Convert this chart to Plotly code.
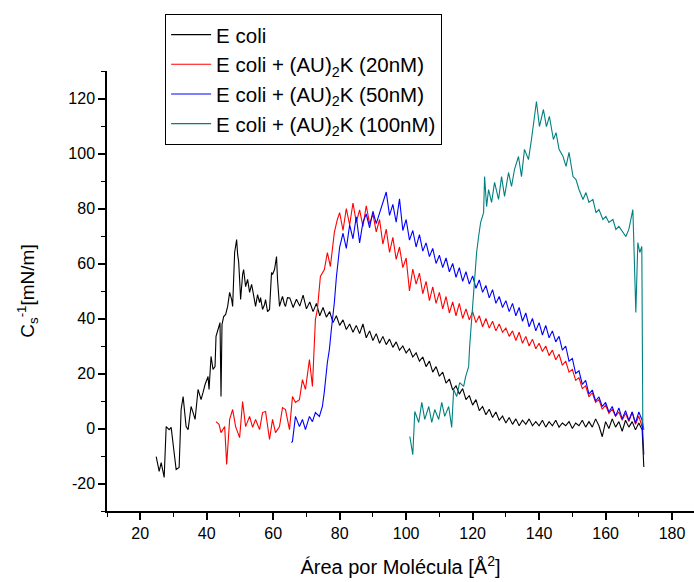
import plotly.graph_objects as go

# ---------------- data ----------------
names = ["E coli",
         "E coli + (AU)<sub>2</sub>K (20nM)",
         "E coli + (AU)<sub>2</sub>K (50nM)",
         "E coli + (AU)<sub>2</sub>K (100nM)"]
colors = ["#000000", "#ff0000", "#0000ff", "#008080"]

ecoli_x = [24.8, 25.7, 26.3, 27.2, 27.8, 28.7, 29.3, 30.5, 30.8, 31.7, 32.3, 32.9, 33.8, 34.4, 35.3,
           35.9, 36.5, 37.4, 38.3, 38.9, 39.5, 40.4, 40.7, 41.3, 41.9, 42.5, 42.8, 43.4, 44.0, 44.3,
           44.6, 45.1, 45.7, 46.3, 46.9, 47.5, 47.8, 48.4, 49.0, 49.3, 49.6, 49.9, 50.2, 50.8, 51.1,
           51.7, 52.3, 52.9, 53.5, 53.8, 54.4, 54.7, 55.3, 55.9, 56.2, 56.8, 57.4, 57.7, 58.3, 58.9,
           59.5, 59.8, 60.4, 61.0, 61.3, 61.9, 62.5, 62.8, 63.4, 63.7, 64.3,
           65, 66, 67, 68, 69, 70, 71, 72, 73, 74, 75, 76, 77, 78, 79, 80, 81, 82, 83, 84, 85, 86, 87,
           88, 89, 90, 91, 92, 93, 94, 95, 96, 97, 98, 99, 100, 101, 102, 103, 104, 105, 106, 107, 108,
           109, 110, 111, 112, 113, 114, 115, 116, 117, 118, 119, 120, 121, 122, 123, 124, 125, 126,
           127, 128, 129, 130, 131, 132, 133, 134, 135, 136, 137, 138, 139, 140, 141, 142, 143, 144,
           145, 146, 147, 148, 149, 150, 151, 152, 153, 154, 155, 156, 157, 158, 159, 160, 161, 162,
           163, 164, 165, 166, 167, 168, 169, 170, 171, 171.5]
ecoli_y = [-10.2, -15.6, -12.4, -17.8, 0.7, -0.4, 0.4, -13.1, -14.9, -14.2, 6.9, 11.6, 0.7, -0.4, 8.0,
           5.8, 3.3, 14.2, 10.5, 13.1, 16.0, 18.9, 14.2, 26.2, 21.5, 22.5, 33.5, 36.0, 38.5, 11.6,
           37.8, 40.7, 41.5, 44.4, 49.5, 46.9, 44.4, 64.0, 68.7, 63.3, 60.7, 54.2, 46.9, 56.0, 57.8,
           51.6, 54.2, 49.5, 52.4, 50.5, 46.9, 44.4, 48.7, 45.8, 47.6, 43.3, 45.1, 46.9, 42.5, 43.3,
           56.7, 56.0, 57.8, 62.5, 54.2, 44.4, 46.9, 48.0, 45.1, 44.4, 47.6,
           47.5, 44.0, 47.0, 44.5, 48.5, 43.5, 46.0, 42.5, 45.5, 41.0, 44.0, 40.5, 42.5, 38.5, 41.0,
           37.5, 39.5, 36.0, 38.0, 35.0, 37.5, 34.5, 38.0, 33.0, 35.5, 32.0, 34.5, 31.0, 33.5, 30.5,
           32.5, 29.5, 31.5, 28.5, 30.0, 27.5, 29.0, 26.0, 27.5, 24.5, 26.0, 22.5, 24.5, 20.5, 22.5,
           19.0, 20.5, 16.5, 18.0, 14.0, 15.5, 12.5, 14.5, 10.5, 12.0, 8.5, 10.5, 6.5, 8.0, 5.0, 7.0,
           4.0, 6.0, 3.0, 4.5, 2.0, 4.0, 1.5, 3.5, 1.0, 3.0, 1.5, 3.5, 1.0, 2.5, 1.0, 3.0, 0.5, 2.5,
           1.0, 3.0, 0.5, 2.0, 1.0, 2.5, 0.0, 2.0, 1.0, 3.0, 0.5, 2.5, 0.5, 3.5, 1.0, -3.0, 2.5, 0.0,
           3.5, 0.5, 2.5, -1.0, 3.0, 0.5, 2.5, -0.5, 2.0, -0.5, -14.0]

au20_x = [42.8, 43.7, 44.3, 45.4, 46.0, 46.9, 47.8, 48.7, 49.9, 50.8, 51.7, 52.9, 53.8, 54.7, 55.9,
          56.8, 57.7, 58.9, 59.8, 60.7, 61.9, 62.8, 63.7, 64.9, 65.8, 66.7, 67.9, 68.8, 69.7, 70.9,
          71.8, 72.7, 73.3, 74.2, 75.4, 76.3, 77.2, 78.4, 79.3,
          80, 81, 82, 83, 84, 85, 86, 87, 88, 89, 90, 91, 92, 93, 94, 95, 96, 97, 98, 99, 100, 101,
          102, 103, 104, 105, 106, 107, 108, 109, 110, 111, 112, 113, 114, 115, 116, 117, 118, 119,
          120, 121, 122, 123, 124, 125, 126, 127, 128, 129, 130, 131, 132, 133, 134, 135, 136, 137,
          138, 139, 140, 141, 142, 143, 144, 145, 146, 147, 148, 149, 150, 151, 152, 153, 154, 155,
          156, 157, 158, 159, 160, 161, 162, 163, 164, 165, 166, 167, 168, 169, 170, 171, 171.5]
au20_y = [2.5, 1.5, -1.5, 0.7, -13.1, 3.3, 6.9, 0.7, -3.3, 9.8, 0.7, 4.4, 0.4, 3.3, -0.4,
          5.8, 6.2, -4.0, 3.3, -1.5, 0.7, 7.6, 6.9, -0.4, 11.6, 9.5, 10.5, 17.8, 14.2, 25.1,
          15.3, 39.6, 43.3, 55.3, 57.8, 64.0, 58.9, 71.3, 76.0,
          78.5, 72.0, 80.0, 74.0, 82.0, 75.0, 79.5, 73.5, 81.0, 74.5, 78.0, 71.5, 76.0, 67.0, 72.5,
          64.0, 69.5, 61.5, 66.0, 58.5, 62.0, 50.0, 58.0, 52.5, 56.5, 49.0, 53.5, 46.5, 51.5, 45.5,
          49.5, 43.5, 48.0, 42.0, 46.0, 41.0, 45.5, 40.0, 43.5, 39.5, 42.5, 38.5, 41.0, 37.0, 40.0,
          36.5, 39.0, 35.5, 38.0, 35.0, 36.5, 33.5, 35.5, 32.0, 35.0, 31.0, 33.5, 30.0, 32.5, 29.0,
          31.0, 28.0, 30.0, 26.5, 28.5, 25.0, 27.0, 23.0, 24.5, 20.5, 21.5, 17.5, 18.5, 14.5, 15.5,
          11.5, 13.0, 9.5, 10.5, 7.0, 8.5, 5.5, 7.0, 4.5, 6.0, 3.0, 5.5, 2.5, 6.0, 1.5, 4.5, 0.5, -0.4]

au50_x = [65.5, 65.8, 66.7, 67.9, 68.8, 69.7, 70.9, 71.8, 72.7, 73.9, 74.8, 75.4, 76.3, 76.9, 77.5,
          78.4, 79.0, 79.9,
          80, 81, 82, 83, 84, 85, 86, 87, 88, 89, 90, 91, 92, 93, 94, 95, 96, 97, 98, 99, 100, 101,
          102, 103, 104, 105, 106, 107, 108, 109, 110, 111, 112, 113, 114, 115, 116, 117, 118, 119,
          120, 121, 122, 123, 124, 125, 126, 127, 128, 129, 130, 131, 132, 133, 134, 135, 136, 137,
          138, 139, 140, 141, 142, 143, 144, 145, 146, 147, 148, 149, 150, 151, 152, 153, 154, 155,
          156, 157, 158, 159, 160, 161, 162, 163, 164, 165, 166, 167, 168, 169, 170, 171, 171.5]
au50_y = [-5.1, -4.7, 4.4, 0.7, 3.3, -0.4, 4.4, 2.5, 5.8, 4.4, 8.0, 13.5, 24.0, 28.7, 36.0,
          45.8, 54.9, 64.0,
          66.0, 71.0, 65.5, 74.0, 69.0, 77.0, 67.5, 75.0, 78.0, 73.0, 79.0, 74.5, 78.5, 82.0, 86.0,
          77.5, 81.5, 75.0, 83.5, 72.0, 76.0, 68.5, 72.0, 66.0, 70.5, 64.5, 67.5, 62.5, 65.5, 60.0,
          63.0, 58.5, 62.0, 57.0, 60.0, 55.0, 58.5, 53.5, 57.0, 52.5, 55.5, 51.0, 54.0, 49.5, 52.0,
          47.5, 50.5, 45.5, 48.0, 44.0, 46.5, 42.5, 45.5, 41.0, 44.0, 39.0, 42.0, 37.0, 40.0, 35.5,
          38.5, 34.0, 37.5, 33.0, 35.5, 31.5, 33.5, 28.5, 30.0, 24.5, 25.5, 20.0, 21.0, 16.0, 17.5,
          12.5, 14.0, 10.0, 11.5, 8.0, 9.5, 6.0, 8.0, 4.5, 7.5, 3.5, 6.5, 3.0, 6.0, 2.0, 6.0, 3.0, -9.5]

au100_x = [101.1, 102.0, 102.6, 103.8, 104.7, 105.6, 106.8, 107.7, 108.6, 109.8, 110.7, 111.6, 112.8,
           113.7, 114.3, 115.2, 116.1, 117.3, 117.9, 118.8, 119.1, 119.7, 120.3, 120.6, 121.2, 121.8,
           122.4, 123.3, 123.6, 124.2, 124.8, 125.7, 126.6, 127.8, 128.7, 129.6, 130.8, 131.7, 132.6,
           133.8, 134.7, 135.6, 136.8, 137.7, 138.3, 139.2, 140.1, 141.3, 142.2, 143.1, 144.3, 145.1,
           146.0, 147.2, 148.1, 149.0, 150.2, 151.1, 152.0, 153.2, 154.1, 155.0, 156.2, 157.1, 158.0,
           159.2, 160.1, 161.0, 162.2, 163.1, 164.0, 165.2, 166.1, 167.0, 168.2, 168.5, 169.1, 169.7,
           170.3, 170.9, 171.2, 171.5]
au100_y = [-2.9, -9.5, 6.2, 2.2, 9.5, 3.3, 8.0, 2.2, 6.9, 3.3, 9.5, 4.4, 8.0,
           0.4, 14.2, 11.6, 16.7, 15.3, 18.9, 22.5, 29.8, 39.6, 48.0, 55.3, 64.0, 69.8,
           74.9, 78.5, 91.6, 80.7, 86.9, 82.2, 89.5, 83.3, 91.6, 84.4, 93.1, 88.0, 94.2,
           98.9, 91.6, 101.5, 97.8, 105.1, 111.3, 118.9, 109.8, 116.0, 109.8, 113.5, 105.1, 107.6,
           101.5, 98.9, 95.3, 100.4, 91.6, 90.5, 86.9, 83.3, 85.8, 82.2, 83.3, 78.5, 79.6,
           76.0, 77.1, 74.9, 76.0, 72.4, 73.5, 71.3, 69.8, 72.4, 79.6, 67.6, 42.2, 67.6,
           64.0, 66.2, 2.2, -0.4]

x_ticks = [20, 40, 60, 80, 100, 120, 140, 160, 180]
y_ticks = [-20, 0, 20, 40, 60, 80, 100, 120]
y_tick_labels = ["-20", "0", "20", "40", "60", "80", "100", "120"]

series = [(ecoli_x, ecoli_y), (au20_x, au20_y), (au50_x, au50_y), (au100_x, au100_y)]

# ---------------- figure ----------------
fig = go.Figure()
for (xs, ys), name, col in zip(series, names, colors):
    fig.add_trace(go.Scatter(x=xs, y=ys, mode="lines", name=name,
                             line=dict(color=col, width=1.1)))

font_family = "Liberation Sans, Arial, sans-serif"
axis_common = dict(showgrid=False, zeroline=False, showline=True, linecolor="black",
                   linewidth=1.5, ticks="outside", ticklen=7, tickwidth=1.5, tickcolor="black",
                   tickfont=dict(family=font_family, size=16, color="black"))

fig.update_xaxes(range=[10, 186.6], tickvals=x_ticks,
                 minor=dict(dtick=10, tick0=0, ticks="outside", ticklen=4, tickwidth=1.2,
                            tickcolor="black"),
                 title=dict(text="Área por Molécula [Å<sup>2</sup>]",
                            font=dict(family=font_family, size=20, color="black"), standoff=19),
                 **axis_common)
fig.update_yaxes(range=[-30, 130], tickvals=y_ticks, ticktext=y_tick_labels,
                 minor=dict(dtick=10, tick0=0, ticks="outside", ticklen=4, tickwidth=1.2,
                            tickcolor="black"),
                 title=dict(text="C<sub>s</sub><sup>-1</sup>[mN/m]",
                            font=dict(family=font_family, size=19, color="black"), standoff=29),
                 **axis_common)

fig.update_layout(
    width=694, height=582,
    margin=dict(l=107, r=0, t=71, b=71, autoexpand=False),
    paper_bgcolor="white", plot_bgcolor="white",
    font=dict(family=font_family, size=16, color="black"),
    showlegend=True,
    legend=dict(x=0.099, y=1.13, xanchor="left", yanchor="top",
                bgcolor="white", bordercolor="black", borderwidth=1,
                font=dict(family=font_family, size=20.5, color="black"),
                tracegroupgap=0, itemwidth=40),
)

fig.write_html("out.html")
